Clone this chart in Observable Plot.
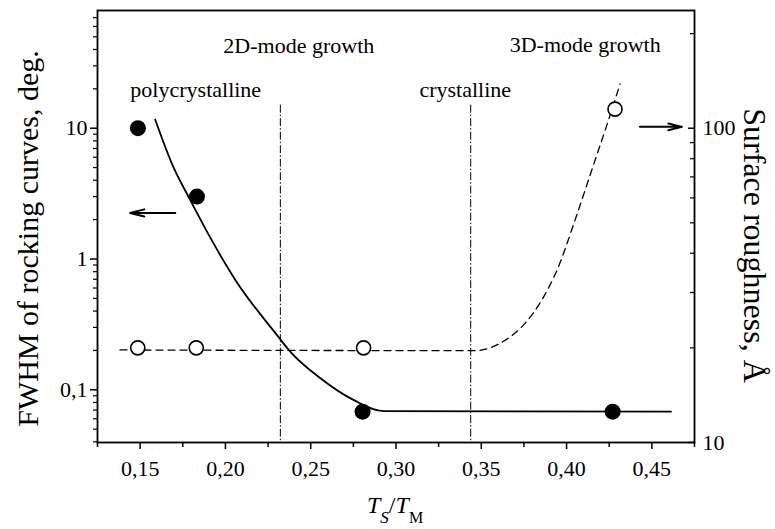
<!DOCTYPE html>
<html>
<head>
<meta charset="utf-8">
<script src="https://cdn.jsdelivr.net/npm/d3@7"></script>
<script src="https://cdn.jsdelivr.net/npm/@observablehq/plot@0.6"></script>
<style>
  body { margin: 0; background: #fff; }
  #chart svg { overflow: visible; }
</style>
</head>
<body>
<div id="chart"></div>
<script>
// Substrate-to-melting temperature ratio of the samples
const ratioFwhm = [0.1487, 0.1833, 0.2804, 0.427];
// FWHM of rocking curves, deg.
const fwhm = [10, 3, 0.068, 0.068];
// Ratio and surface roughness (Å) for the roughness measurements
const ratioRough = [0.1486, 0.1829, 0.281, 0.4284];
const roughness = [20, 20, 20, 115];

// Guide curve through the FWHM data (solid)
const fwhmFitX = [0.1588, 0.1686, 0.1794, 0.1931, 0.2059, 0.2319, 0.2372, 0.2559, 0.2753, 0.2929, 0.4612];
const fwhmFitY = [11.65, 5.37, 2.82, 1.31, 0.689, 0.246, 0.201, 0.122, 0.0833, 0.0686, 0.068];
// Guide curve through the roughness data (dashed)
const roughFitX = [0.1382, 0.346, 0.3618, 0.3755, 0.3853, 0.3951, 0.4049, 0.4147, 0.4245, 0.4314];
const roughFitY = [19.7, 19.6, 20.8, 23.9, 28.3, 36.1, 50.9, 73.4, 105.8, 138.4];

// Boundaries between growth regimes
const boundaries = [0.2322, 0.3438];

// Tick values
const xTicks = [0.15, 0.20, 0.25, 0.30, 0.35, 0.40, 0.45];
const xMinorTicks = [0.125, 0.175, 0.225, 0.275, 0.325, 0.375, 0.425, 0.475];
const leftTicks = [0.1, 1, 10];
const leftMinorTicks = [0.04, 0.05, 0.06, 0.07, 0.08, 0.09, 0.2, 0.3, 0.4, 0.5, 0.6, 0.7, 0.8, 0.9,
                        2, 3, 4, 5, 6, 7, 8, 9, 20, 30, 40, 50, 60, 70];
const rightTicks = [10, 100];
const rightMinorTicks = [20, 30, 40, 50, 60, 70, 80, 90, 200];

// The roughness axis (right) is drawn against the FWHM scale (left):
// one roughness decade spans K FWHM decades, and 100 Å sits level with 10 deg.
const K = 2.403;
const toLeft = r => Math.pow(10, 1 + (Math.log10(r) - 2) * K);
const fromLeft = v => Math.pow(10, 2 + (Math.log10(v) - 1) / K);

const yMin = toLeft(10);
const yMax = Math.pow(10, 1.9);

const comma = s => s.replace(".", ",");
const serif = "'Liberation Serif', 'Times New Roman', serif";
const blank = () => "";

const chart = Plot.plot({
  width: 775,
  height: 529,
  marginLeft: 97,
  marginRight: 81,
  marginTop: 10,
  marginBottom: 87,
  style: {fontFamily: serif, fontSize: "22px", color: "#000", background: "#fff"},
  x: {domain: [0.125, 0.475]},
  y: {type: "log", domain: [yMin, yMax]},
  marks: [
    // bottom axis
    Plot.axisX(xTicks, {tickSize: 7, tickPadding: 11, strokeWidth: 1.5, fontSize: 22,
      tickFormat: d => comma(d3.format(".2f")(d)), label: null}),
    Plot.axisX(xMinorTicks, {tickSize: 5, strokeWidth: 1.5, tickFormat: blank, label: null}),
    // left axis (FWHM)
    Plot.axisY(leftTicks, {tickSize: 7, tickPadding: 3, strokeWidth: 1.5, fontSize: 22,
      tickFormat: d => comma(String(d)), label: null}),
    Plot.axisY(leftMinorTicks, {tickSize: 4, strokeWidth: 1.2, tickFormat: blank, label: null}),
    // right axis (roughness), ticks pointing into the frame
    Plot.axisY(rightTicks.map(toLeft), {anchor: "right", tickSize: -7, tickPadding: 15, strokeWidth: 1.5,
      fontSize: 22, tickFormat: v => String(Math.round(fromLeft(v))), label: null}),
    Plot.axisY(rightMinorTicks.map(toLeft), {anchor: "right", tickSize: -5, strokeWidth: 1.2,
      tickFormat: blank, label: null}),
    Plot.frame({stroke: "#000", strokeWidth: 1.8}),

    // regime boundaries
    Plot.ruleX(boundaries, {y1: 15, y2: yMin, stroke: "#000", strokeWidth: 1, strokeDasharray: "8,2,1.5,2"}),

    // guide curves
    Plot.line(roughFitX.map((x, i) => [x, toLeft(roughFitY[i])]),
      {x: d => d[0], y: d => d[1], curve: "monotone-x", stroke: "#000", strokeWidth: 1.3, strokeDasharray: "7,5"}),
    Plot.line(fwhmFitX.map((x, i) => [x, fwhmFitY[i]]),
      {x: d => d[0], y: d => d[1], curve: "monotone-x", stroke: "#000", strokeWidth: 1.8}),

    // data points
    Plot.dot(ratioRough.map((x, i) => [x, toLeft(roughness[i])]),
      {x: d => d[0], y: d => d[1], r: 7, fill: "#fff", stroke: "#000", strokeWidth: 1.6}),
    Plot.dot(ratioFwhm.map((x, i) => [x, fwhm[i]]),
      {x: d => d[0], y: d => d[1], r: 8, fill: "#000", stroke: "none"}),

    // arrows pointing to the axis each series belongs to
    Plot.arrow([{x1: 0.1706, x2: 0.1441, y: 2.25}, {x1: 0.443, x2: 0.4676, y: toLeft(101)}],
      {x1: "x1", x2: "x2", y1: "y", y2: "y", stroke: "#000", strokeWidth: 2, headLength: 11, headAngle: 28}),

    // regime annotations
    Plot.text([
      {label: "2D-mode growth", x: 0.243, y: 37.4},
      {label: "3D-mode growth", x: 0.4109, y: 38.5},
      {label: "polycrystalline", x: 0.1826, y: 17.3},
      {label: "crystalline", x: 0.3406, y: 17.3}
    ], {x: "x", y: "y", text: "label", lineAnchor: "bottom", fontSize: 22, fill: "#000"}),

    // axis titles
    Plot.text(["FWHM of rocking curves, deg."],
      {frameAnchor: "left", textAnchor: "middle", rotate: -90, dx: -69, dy: 12, fontSize: 30, fill: "#000"}),
    Plot.text(["Surface roughness, Å"],
      {frameAnchor: "right", textAnchor: "middle", rotate: 90, dx: 60, dy: 19, fontSize: 32, fill: "#000"})
  ]
});

// x-axis title with subscripted temperatures
const t = d3.select(chart).append("text")
  .attr("x", 367).attr("y", 513).attr("text-anchor", "start")
  .attr("font-family", serif).attr("font-size", 24).attr("fill", "#000");
t.append("tspan").attr("font-style", "italic").text("T");
t.append("tspan").attr("font-style", "italic").attr("font-size", 17).attr("dy", 10).text("S");
t.append("tspan").attr("dy", -10).text("/");
t.append("tspan").attr("font-style", "italic").text("T");
t.append("tspan").attr("font-size", 16).attr("dy", 10).text("M");

document.getElementById("chart").append(chart);
</script>
</body>
</html>
